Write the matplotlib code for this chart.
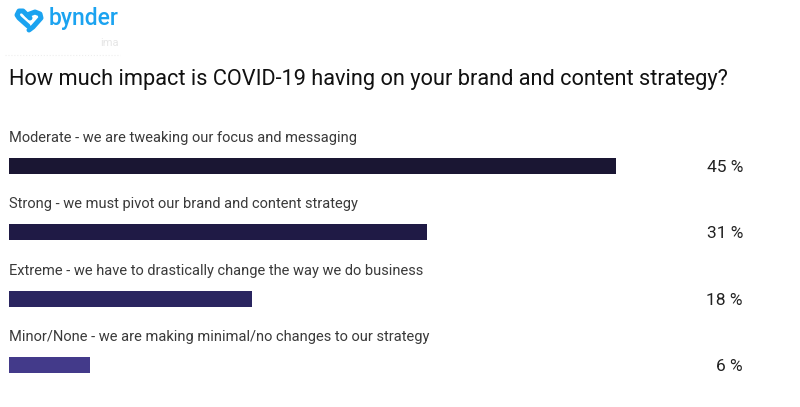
import matplotlib.pyplot as plt
from matplotlib.path import Path as MPath
from matplotlib.patches import PathPatch
import matplotlib.transforms as mtransforms

plt.rcParams["font.family"] = ["Roboto", "DejaVu Sans"]

TITLE = "How much impact is COVID-19 having on your brand and content strategy?"
answers = [
    "Moderate - we are tweaking our focus and messaging",
    "Strong - we must pivot our brand and content strategy",
    "Extreme - we have to drastically change the way we do business",
    "Minor/None - we are making minimal/no changes to our strategy",
]
shares = [45, 31, 18, 6]
bar_colors = ["#1a1633", "#1f1a45", "#2a2560", "#433a8a"]

W, H = 800, 407
fig = plt.figure(figsize=(W / 100, H / 100), dpi=100)
fig.patch.set_facecolor("white")

# bars axes: x from 9px to 616px for 45 %
ax = fig.add_axes([9 / W, 1 - 398.5 / H, 607 / W, 266 / H])
ax.set_xlim(0, 45)
ax.set_ylim(3.5, -0.5)
ax.axis("off")

ypos = range(len(answers))
ax.barh(list(ypos), shares, height=0.24, color=bar_colors, left=0)

pct_tr = mtransforms.blended_transform_factory(fig.transFigure, ax.transData)
for i, (lab, v) in enumerate(zip(answers, shares)):
    ax.text(0, i - 0.42, lab, fontsize=10.5, color="#3a3a3a", va="center", ha="left")
    ax.text(743 / W, i + 0.02, f"{v} %", transform=pct_tr, fontsize=12.5,
            color="#222222", va="center", ha="right")

# title
fig.text(9 / W, 1 - 79 / H, TITLE, fontsize=15.7, color="#111111", va="center", ha="left")

# logo
fig.text(49 / W, 1 - 19 / H, "bynder", fontsize=16.5, color="#1ba3f0",
         va="center", ha="left", fontweight="medium")
lax = fig.add_axes([12 / W, 1 - 34 / H, 34 / W, 26 / H])
lax.set_xlim(0, 34)
lax.set_ylim(0, 26)
lax.axis("off")
stroke = dict(fill=False, lw=3.6, edgecolor="#1ba3f0", capstyle="round", joinstyle="round")
verts = [(16, 8), (7, 16), (5, 19), (7, 23), (11, 23), (18, 16)]
lax.add_patch(PathPatch(MPath(verts, [MPath.MOVETO] + [MPath.LINETO] * 5), **stroke))
verts2 = [(15, 19), (23, 22), (28, 20), (29, 16), (21, 7), (17, 4)]
lax.add_patch(PathPatch(MPath(verts2, [MPath.MOVETO] + [MPath.LINETO] * 5), **stroke))
fig.text(100 / W, 1 - 43 / H, "ima", fontsize=8, color="#e6e6e6", va="center")
fig.add_artist(plt.Line2D([5 / W, 120 / W], [1 - 55 / H, 1 - 55 / H],
                          color="#eeeeee", lw=0.8, ls=":"))

fig.savefig("out.png", dpi=100)
